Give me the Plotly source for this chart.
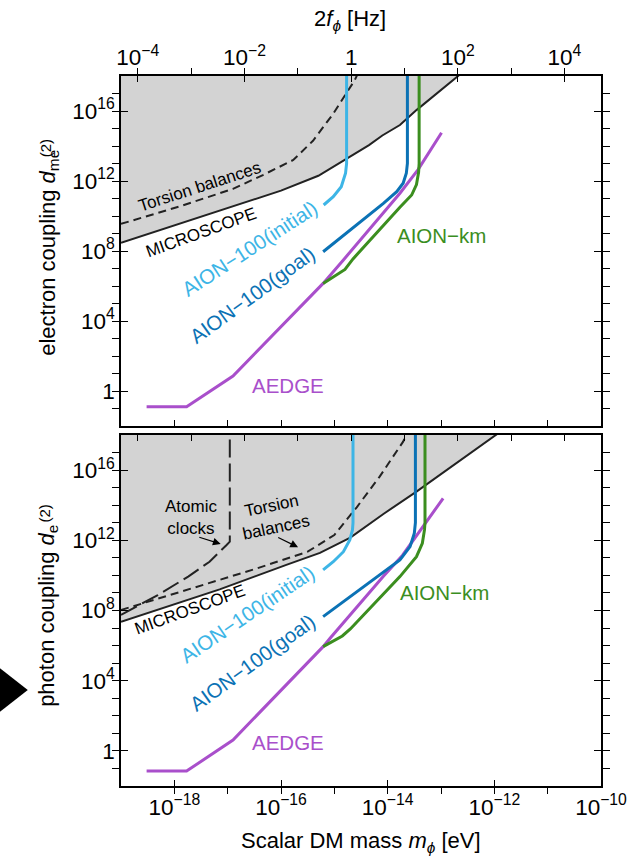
import math
import plotly.graph_objects as go

H_EV_S = 4.135667e-15            # Planck constant [eV s], for the 2f axis
FREQ_SHIFT = math.log10(2.0 / H_EV_S)

# ---------------- values (log10 units) ----------------
# Top panel: electron coupling d_me^(2)
e_micro_logm = [-19.0, -17.5, -16.0, -15.3, -14.77, -14.35, -14.1, -13.77, -13.46, -12.6]
e_micro_logd = [8.47, 9.95, 11.45, 12.3, 13.25, 14.05, 14.6, 15.2, 16.05, 18.2]

e_tors_logm = [-19.0, -17.9, -16.9, -16.34, -15.77, -15.4, -15.02, -14.62, -14.55]
e_tors_logd = [9.55, 10.55, 11.55, 12.34, 13.2, 14.3, 15.85, 17.75, 18.2]

e_init_logm = [-15.2, -15.02, -14.87, -14.79, -14.77, -14.77]
e_init_logd = [10.63, 11.1, 11.67, 12.44, 13.0, 18.2]

e_goal_logm = [-15.21, -14.08, -13.83, -13.71, -13.65, -13.63, -13.63]
e_goal_logd = [7.96, 10.72, 11.39, 11.87, 12.44, 13.0, 18.2]

e_km_logm = [-15.21, -14.8, -14.65, -14.15, -13.77, -13.55, -13.46, -13.42, -13.41, -13.41]
e_km_logd = [6.15, 6.95, 7.55, 9.25, 10.5, 11.2, 11.8, 12.5, 13.0, 18.2]

e_aedge_logm = [-18.52, -17.77, -16.9, -15.21, -14.83, -13.77, -13.43, -12.99]
e_aedge_logd = [-0.9, -0.9, 0.86, 6.15, 7.49, 11.3, 12.65, 14.76]

# Bottom panel: photon coupling d_e^(2)
p_micro_logm = [-19.0, -17.15, -15.9, -15.27, -14.7, -14.08, -13.46, -12.71, -11.96, -11.88]
p_micro_logd = [7.36, 9.2, 10.6, 11.28, 12.15, 13.5, 14.77, 16.39, 18.0, 18.2]

p_tors_logm = [-19.0, -16.5, -15.5, -15.0, -14.58, -14.15, -13.71, -13.62]
p_tors_logd = [8.03, 10.35, 11.35, 12.3, 13.88, 15.63, 17.62, 18.2]

p_clock_logm = [-19.0, -18.31, -17.74, -17.34, -17.02, -16.96, -16.96]
p_clock_logd = [7.75, 8.88, 9.93, 10.78, 11.73, 11.92, 18.2]

p_init_logm = [-15.21, -15.02, -14.83, -14.71, -14.66, -14.65, -14.65]
p_init_logd = [10.31, 10.78, 11.35, 12.02, 12.59, 13.0, 18.2]

p_goal_logm = [-15.21, -14.08, -13.77, -13.58, -13.5, -13.48, -13.48]
p_goal_logd = [7.65, 10.15, 10.88, 11.64, 12.4, 13.0, 18.2]

p_km_logm = [-15.21, -14.85, -14.7, -13.77, -13.46, -13.35, -13.31, -13.3, -13.3]
p_km_logd = [5.94, 6.55, 6.95, 9.93, 11.07, 11.83, 12.59, 13.0, 18.2]

p_aedge_logm = [-18.52, -17.77, -16.9, -15.21, -15.08, -14.08, -13.72, -13.33, -12.96]
p_aedge_logd = [-1.15, -1.15, 0.62, 5.94, 6.42, 9.95, 11.15, 12.85, 14.39]

# axis ticks (exponents)
x_major_exp = [-18, -16, -14, -12, -10]
x_all_exp = list(range(-19, -9))
y_major_exp = [0, 4, 8, 12, 16]
y_all_exp = list(range(-2, 19))
f_major_exp = [-4, -2, 0, 2, 4]
f_all_exp = list(range(-4, 5))

X_RANGE = [-19, -10]
Y_RANGE = [-2, 18]

# ---------------- styling ----------------
FONT = "Liberation Sans, Arial, Helvetica, sans-serif"
C_INIT = "#3DB5E6"
C_GOAL = "#0B72B5"
C_KM = "#3B8E1F"
C_AEDGE = "#A94FCB"
C_BLACK = "#222222"
C_FILL = "#D3D3D3"


def pw(v):
    return [10 ** e for e in v]


def pow_label(e):
    if e == 0:
        return "1"
    s = str(e).replace("-", "\u2212")
    return "10<sup>%s</sup>" % s


fig = go.Figure()


def add_panel(xa, ya, micro, tors, clock, init, goal, km, aedge):
    # grey excluded region above MICROSCOPE
    mx = pw(micro[0]) + [10 ** X_RANGE[0]]
    my = pw(micro[1]) + [10 ** micro[1][-1]]
    fig.add_trace(go.Scatter(x=mx, y=my, fill="toself", fillcolor=C_FILL,
                             line=dict(width=0), mode="lines", hoverinfo="skip",
                             xaxis=xa, yaxis=ya, showlegend=False))
    fig.add_trace(go.Scatter(x=pw(tors[0]), y=pw(tors[1]), mode="lines",
                             line=dict(color=C_BLACK, width=2, dash="8px,5px"),
                             xaxis=xa, yaxis=ya, showlegend=False))
    if clock is not None:
        fig.add_trace(go.Scatter(x=pw(clock[0]), y=pw(clock[1]), mode="lines",
                                 line=dict(color=C_BLACK, width=2, dash="18px,6px"),
                                 xaxis=xa, yaxis=ya, showlegend=False))
    fig.add_trace(go.Scatter(x=pw(micro[0]), y=pw(micro[1]), mode="lines",
                             line=dict(color=C_BLACK, width=2),
                             xaxis=xa, yaxis=ya, showlegend=False))
    for data, col in ((aedge, C_AEDGE), (km, C_KM), (goal, C_GOAL), (init, C_INIT)):
        fig.add_trace(go.Scatter(x=pw(data[0]), y=pw(data[1]), mode="lines",
                                 line=dict(color=col, width=3),
                                 xaxis=xa, yaxis=ya, showlegend=False))


add_panel("x", "y", (e_micro_logm, e_micro_logd), (e_tors_logm, e_tors_logd), None,
          (e_init_logm, e_init_logd), (e_goal_logm, e_goal_logd),
          (e_km_logm, e_km_logd), (e_aedge_logm, e_aedge_logd))
add_panel("x2", "y2", (p_micro_logm, p_micro_logd), (p_tors_logm, p_tors_logd),
          (p_clock_logm, p_clock_logd),
          (p_init_logm, p_init_logd), (p_goal_logm, p_goal_logd),
          (p_km_logm, p_km_logd), (p_aedge_logm, p_aedge_logd))

f_range = [X_RANGE[0] + FREQ_SHIFT, X_RANGE[1] + FREQ_SHIFT]
# invisible anchors so the frequency axes get drawn
for xa, ya in (("x3", "y"), ("x4", "y2")):
    fig.add_trace(go.Scatter(x=[10 ** f_range[0]], y=[10 ** Y_RANGE[0]], mode="markers",
                             marker=dict(opacity=0, size=1), hoverinfo="skip",
                             xaxis=xa, yaxis=ya, showlegend=False))

tickfont = dict(family=FONT, size=22.5, color="black")
axline = dict(showline=True, linecolor="black", linewidth=1.5, showgrid=False,
              zeroline=False, ticks="inside", tickcolor="black", tickwidth=1.2)

xm_common = dict(type="log", range=X_RANGE, **axline)

ydomain_top = [0.507, 1.0]
ydomain_bot = [0.0, 0.4944]

y_common = dict(type="log", range=Y_RANGE, mirror="allticks",
                tickvals=pw(y_major_exp), ticktext=[pow_label(e) for e in y_major_exp],
                ticklen=7, tickfont=tickfont,
                minor=dict(tickvals=pw(y_all_exp), ticklen=4, tickcolor="black", tickwidth=1.2),
                **axline)

fig.update_layout(
    width=641, height=859,
    margin=dict(l=121, r=40, t=76, b=73),
    plot_bgcolor="white", paper_bgcolor="white",
    font=dict(family=FONT, color="black"),
    xaxis=dict(anchor="y", tickvals=pw(x_all_exp), ticklen=6, showticklabels=False,
               **xm_common),
    yaxis=dict(domain=ydomain_top, anchor="x", **y_common),
    xaxis3=dict(type="log", range=f_range, overlaying="x", side="top", anchor="y",
                tickvals=pw(f_major_exp), ticktext=[pow_label(e) for e in f_major_exp],
                ticklen=6, tickfont=tickfont,
                minor=dict(tickvals=pw(f_all_exp), ticklen=6, tickcolor="black", tickwidth=1.2),
                **axline),
    xaxis2=dict(anchor="y2", tickvals=pw(x_major_exp),
                ticktext=[pow_label(e) for e in x_major_exp], ticklen=6, tickfont=tickfont,
                minor=dict(tickvals=pw(x_all_exp), ticklen=6, tickcolor="black", tickwidth=1.2),
                **xm_common),
    yaxis2=dict(domain=ydomain_bot, anchor="x2", **y_common),
    xaxis4=dict(type="log", range=f_range, overlaying="x2", side="top", anchor="y2",
                tickvals=pw(f_all_exp), ticklen=6, showticklabels=False, **axline),
)

ann = []


def label(text, x, y, ref, color, size, angle=0):
    ann.append(dict(text=text, x=x, y=y, xref="x" if ref == 1 else "x2",
                    yref="y" if ref == 1 else "y2", showarrow=False, textangle=angle,
                    font=dict(family=FONT, size=size, color=color),
                    xanchor="center", yanchor="middle"))


def ptext(text, x, y, size, angle=0):
    ann.append(dict(text=text, x=x, y=y, xref="paper", yref="paper", showarrow=False,
                    textangle=angle, font=dict(family=FONT, size=size, color="black"),
                    xanchor="center", yanchor="middle"))


# axis titles
ptext("2<i>f</i><sub><i>ϕ</i></sub> [Hz]", 0.478, 1.0785, 22)
ptext("Scalar DM mass <i>m</i><sub><i>ϕ</i></sub> [eV]", 0.501, -0.0789, 22)
ptext("electron coupling <i>d</i><sub>me</sub>", -0.1514, 0.7514, 22, -90)
ptext("(2)", -0.1566, 0.8979, 15, -90)
ptext("photon coupling <i>d</i><sub>e</sub>", -0.1524, 0.2394, 22, -90)
ptext("(2)", -0.1587, 0.3835, 15, -90)

# top panel labels
label("Torsion balances", -17.51, 11.67, 1, "black", 17, -18)
label("MICROSCOPE", -17.5, 9.06, 1, "black", 17, -20)
label("AION\u2212100(initial)", -16.6, 8.17, 1, C_INIT, 20.5, -33)
label("AION\u2212100(goal)", -16.53, 5.49, 1, C_GOAL, 20.5, -36)
label("AION\u2212km", -12.99, 8.91, 1, C_KM, 20.5)
label("AEDGE", -15.87, 0.34, 1, C_AEDGE, 20.5)

# bottom panel labels
label("Atomic<br>clocks", -17.69, 13.27, 2, "black", 17)
label("Torsion<br>balances", -16.13, 13.33, 2, "black", 17, -12)
label("MICROSCOPE", -17.7, 8.03, 2, "black", 17, -20)
label("AION\u2212100(initial)", -16.62, 7.8, 2, C_INIT, 20.5, -34)
label("AION\u2212100(goal)", -16.54, 5.04, 2, C_GOAL, 20.5, -36)
label("AION\u2212km", -12.93, 9.0, 2, C_KM, 20.5)
label("AEDGE", -15.87, 0.45, 2, C_AEDGE, 20.5)

for (hx, hy, tx, ty) in ((-17.13, 11.79, -17.56, 12.2), (-15.68, 11.6, -16.08, 12.2)):
    ann.append(dict(text="", x=hx, y=hy, ax=tx, ay=ty, xref="x2", yref="y2",
                    axref="x2", ayref="y2", showarrow=True, arrowhead=2,
                    arrowsize=1.3, arrowwidth=1.2, arrowcolor="black"))

fig.update_layout(annotations=ann)

# black pointer triangle at left edge
fig.add_shape(type="path", xref="paper", yref="paper",
              path="M -0.2526,0.1662 L -0.1942,0.1352 L -0.2526,0.1042 Z",
              fillcolor="black", line=dict(width=0))

fig.write_html("out.html", config={"displayModeBar": False},
               post_script="document.body.style.margin='0px';document.body.style.overflow='hidden';")
